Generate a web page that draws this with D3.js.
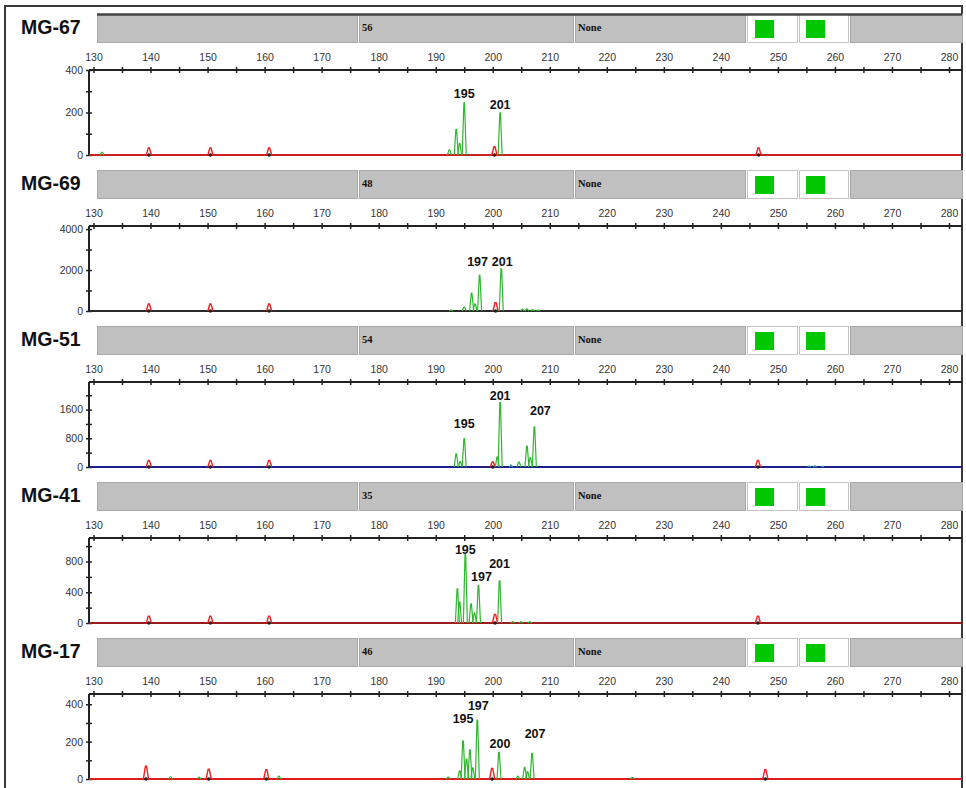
<!DOCTYPE html>
<html>
<head>
<meta charset="utf-8">
<script src="https://cdn.jsdelivr.net/npm/d3@7/dist/d3.min.js"></script>
<style>
  body { margin: 0; background: #fff; }
  svg { display: block; }
</style>
</head>
<body>
<div id="chart"></div>
<script>
// ---- data ----
const samples = ['MG-67', 'MG-69', 'MG-51', 'MG-41', 'MG-17'];
const binCounts = ['56', '48', '54', '35', '46'];
const binStatus = ['None', 'None', 'None', 'None', 'None'];

// size axis (bp)
const sizeTicks = [130, 135, 140, 145, 150, 155, 160, 165, 170, 175, 180, 185, 190, 195, 200,
  205, 210, 215, 220, 225, 230, 235, 240, 245, 250, 255, 260, 265, 270, 275, 280];
const sizeLabels = [130, 140, 150, 160, 170, 180, 190, 200, 210, 220, 230, 240, 250, 260, 270, 280];

// intensity axes (RFU), one per sample
const yMax = [400, 4150, 2370, 1106, 455];
const yTicks = [
  [0, 100, 200, 300, 400],
  [0, 1000, 2000, 3000, 4000],
  [0, 400, 800, 1200, 1600, 2000],
  [0, 200, 400, 600, 800, 1000],
  [0, 100, 200, 300, 400]
];
const yTickLabels = [
  [0, 200, 400],
  [0, 2000, 4000],
  [0, 800, 1600],
  [0, 400, 800],
  [0, 200, 400]
];

// green (sample dye) peaks: [size bp, height]
const greenMG67 = [[131.5, 12], [192.4, 24], [193.6, 121], [194.2, 55], [195.0, 245], [201.3, 198]];
const greenMG69 = [[192.7, 50], [195.0, 195], [196.3, 880], [196.9, 350], [197.7, 1750], [201.5, 2060],
  [205.2, 80], [206.0, 100], [207.0, 60], [208.0, 40]];
const greenMG51 = [[193.6, 370], [194.3, 150], [195.0, 790], [200.8, 280], [201.3, 1800], [204.6, 140],
  [206.0, 580], [206.6, 260], [207.3, 1122]];
const greenMG41 = [[193.8, 443], [194.2, 271], [195.2, 890], [196.2, 250], [196.8, 130], [197.5, 486],
  [201.2, 550], [203.5, 15], [205.0, 15], [206.5, 15]];
const greenMG17 = [[143.5, 12], [148.5, 10], [162.5, 15], [192.2, 10], [194.2, 44], [194.8, 204],
  [195.4, 107], [196.0, 156], [196.5, 60], [197.3, 315], [201.1, 142], [204.4, 15], [205.6, 62],
  [206.1, 40], [206.9, 137], [224.5, 8]];
const greenPeaks = [greenMG67, greenMG69, greenMG51, greenMG41, greenMG17];

// red (size standard / bleed) peaks: [size bp, height]
const redMG67 = [[139.7, 33], [150.5, 33], [160.8, 33], [200.3, 39], [246.6, 33]];
const redMG69 = [[139.7, 340], [150.5, 340], [160.8, 340], [200.5, 400]];
const redMG51 = [[139.7, 185], [150.5, 185], [160.8, 185], [200.0, 140], [246.5, 185]];
const redMG41 = [[139.7, 90], [150.5, 90], [160.8, 90], [200.4, 112], [246.5, 90]];
const redMG17 = [[139.2, 68], [150.2, 53], [160.3, 50], [199.9, 57], [247.8, 50]];
const redPeaks = [redMG67, redMG69, redMG51, redMG41, redMG17];

// small teal blips (MG-51 only)
const tealPeaks = [[], [], [[203.2, 55], [255.5, 30], [256.5, 35], [257.8, 25]], [], []];

// called alleles: [label, size bp of the peak]
const alleles = [
  [['195', 195.0], ['201', 201.3]],
  [['197', 197.7], ['201', 201.5]],
  [['195', 195.0], ['201', 201.3], ['207', 207.3]],
  [['195', 195.2], ['197', 197.5], ['201', 201.2]],
  [['195', 194.8], ['197', 197.3], ['200', 201.1], ['207', 206.9]]
];

// ---- layout ----
const W = 966, H = 788;
const PANEL_STEP = 156, TOP0 = 14;
const AXIS_Y = 56, BASE_Y = 141;
const PLOT_L = 89, PLOT_R = 962;
const SANS = 'Arial, "Liberation Sans", sans-serif';
const SERIF = '"Times New Roman", "Liberation Serif", serif';
const baseColors = ['#cc2020', '#2a2a2a', '#1e1e8c', '#9a1c1c', '#dd1c1c'];
// label nudges [dx, gap above peak top] in px
const labelNudge = [
  [[0, 5], [0, 4]],
  [[-2, 9], [1, 3]],
  [[0, 11], [0, 2], [6, 12]],
  [[0, 1], [3, 5], [0, 13]],
  [[0, 18], [1, 10], [1, 4], [3, 15]]
];

const svg = d3.select('#chart').append('svg')
  .attr('width', W)
  .attr('height', H);

const x = d3.scaleLinear().domain([130, 280]).range([93.5, 949]);
const line = d3.line();

// outer frame
svg.append('rect')
  .attr('x', 5).attr('y', 6)
  .attr('width', 957).attr('height', H)
  .attr('fill', 'none')
  .attr('stroke', '#3a3a3a')
  .attr('stroke-width', 2);

samples.forEach((name, i) => {
  const t = TOP0 + PANEL_STEP * i;
  const g = svg.append('g').attr('transform', `translate(0,${t})`);

  // header bar
  const segs = [[97, 357, 'g'], [359, 573, 'g'], [575, 745, 'g'], [747, 797, 'w'], [799, 848, 'w'], [850, 962, 'g']];
  g.selectAll('.seg')
    .data(segs)
    .enter()
    .append('rect')
    .attr('class', 'seg')
    .attr('x', d => d[0] + 0.5)
    .attr('y', 0.5)
    .attr('width', d => d[1] - d[0])
    .attr('height', 28)
    .attr('fill', d => d[2] === 'g' ? '#c0c0c0' : '#ffffff')
    .attr('stroke', d => d[2] === 'g' ? '#a8a8a8' : '#c4c4c4')
    .attr('stroke-width', 1);

  if (i === 0) {
    g.append('line')
      .attr('x1', 97).attr('x2', PLOT_R)
      .attr('y1', 0.5).attr('y2', 0.5)
      .attr('stroke', '#444')
      .attr('stroke-width', 2.5);
  }

  // green status squares
  [755, 806].forEach(sx => {
    g.append('rect')
      .attr('x', sx).attr('y', 6)
      .attr('width', 19).attr('height', 18)
      .attr('fill', '#00c800');
  });

  g.append('text')
    .attr('x', 362).attr('y', 17)
    .style('font', `bold 10.5px ${SERIF}`)
    .style('fill', '#111')
    .text(binCounts[i]);

  g.append('text')
    .attr('x', 578).attr('y', 17)
    .style('font', `bold 10.5px ${SERIF}`)
    .style('fill', '#111')
    .text(binStatus[i]);

  // sample name
  g.append('text')
    .attr('x', 21).attr('y', 20)
    .style('font', `bold 19.5px ${SANS}`)
    .style('fill', '#111')
    .text(name);

  const y = d3.scaleLinear().domain([0, yMax[i]]).range([BASE_Y, AXIS_Y]);

  // size axis on top
  const xAxis = d3.axisTop(x)
    .tickValues(sizeTicks)
    .tickFormat(d => sizeLabels.includes(d) ? d : '')
    .tickSizeInner(3)
    .tickSizeOuter(0)
    .tickPadding(6);

  const gx = g.append('g')
    .attr('transform', `translate(0,${AXIS_Y})`)
    .call(xAxis);
  gx.select('.domain').remove();
  gx.selectAll('.tick line')
    .attr('y1', 3)
    .attr('stroke', '#222')
    .attr('stroke-width', 1.5);
  gx.selectAll('.tick text')
    .style('font', `10.5px ${SANS}`)
    .style('fill', '#333');

  g.append('line')
    .attr('x1', PLOT_L).attr('x2', PLOT_R)
    .attr('y1', AXIS_Y).attr('y2', AXIS_Y)
    .attr('stroke', '#222')
    .attr('stroke-width', 2);

  // intensity axis
  const yAxis = d3.axisLeft(y)
    .tickValues(yTicks[i])
    .tickFormat(d => yTickLabels[i].includes(d) ? d : '')
    .tickSizeInner(3)
    .tickSizeOuter(0)
    .tickPadding(3);

  const gy = g.append('g')
    .attr('transform', `translate(${PLOT_L},0)`)
    .call(yAxis);
  gy.select('.domain').remove();
  gy.selectAll('.tick line')
    .attr('x1', 3)
    .attr('stroke', '#222')
    .attr('stroke-width', 1.5);
  gy.selectAll('.tick text')
    .style('font', `10.5px ${SANS}`)
    .style('fill', '#333');

  g.append('line')
    .attr('x1', PLOT_L).attr('x2', PLOT_L)
    .attr('y1', AXIS_Y).attr('y2', BASE_Y + 1)
    .attr('stroke', '#222')
    .attr('stroke-width', 2);

  // baseline
  g.append('line')
    .attr('x1', PLOT_L).attr('x2', PLOT_R)
    .attr('y1', BASE_Y).attr('y2', BASE_Y)
    .attr('stroke', baseColors[i])
    .attr('stroke-width', 2);

  // red size-standard peaks (open "A" shapes)
  g.selectAll('.red')
    .data(redPeaks[i])
    .enter()
    .append('path')
    .attr('class', 'red')
    .attr('d', d => line([
      [x(d[0] - 0.45), y(0)],
      [x(d[0] - 0.1), y(d[1])],
      [x(d[0] + 0.1), y(d[1])],
      [x(d[0] + 0.45), y(0)]
    ]))
    .attr('fill', 'none')
    .attr('stroke', '#f02020')
    .attr('stroke-width', 1.4)
    .attr('stroke-linejoin', 'miter');

  g.selectAll('.dot')
    .data(redPeaks[i])
    .enter()
    .append('circle')
    .attr('cx', d => x(d[0]))
    .attr('cy', y(0))
    .attr('r', 1.8)
    .attr('fill', '#222');

  // teal blips
  g.selectAll('.teal')
    .data(tealPeaks[i])
    .enter()
    .append('path')
    .attr('d', d => line([[x(d[0] - 0.3), y(0)], [x(d[0]), y(d[1])], [x(d[0] + 0.3), y(0)]]))
    .attr('fill', 'none')
    .attr('stroke', '#2a9d9d')
    .attr('stroke-width', 1.2);

  // green sample peaks
  g.selectAll('.green')
    .data(greenPeaks[i])
    .enter()
    .append('path')
    .attr('class', 'green')
    .attr('d', d => line([
      [x(d[0] - 0.35), y(0)],
      [x(d[0] - 0.06), y(d[1])],
      [x(d[0] + 0.06), y(d[1])],
      [x(d[0] + 0.35), y(0)]
    ]))
    .attr('fill', 'none')
    .attr('stroke', '#2fb82f')
    .attr('stroke-width', 1.2)
    .attr('stroke-linejoin', 'round');

  // allele labels
  alleles[i].forEach((a, k) => {
    const peak = greenPeaks[i].find(p => p[0] === a[1]);
    const nudge = labelNudge[i][k];
    g.append('text')
      .attr('x', x(a[1]) + nudge[0])
      .attr('y', y(peak[1]) - nudge[1])
      .attr('text-anchor', 'middle')
      .style('font', `bold 12.5px ${SANS}`)
      .style('fill', '#111')
      .text(a[0]);
  });
});
</script>
</body>
</html>
